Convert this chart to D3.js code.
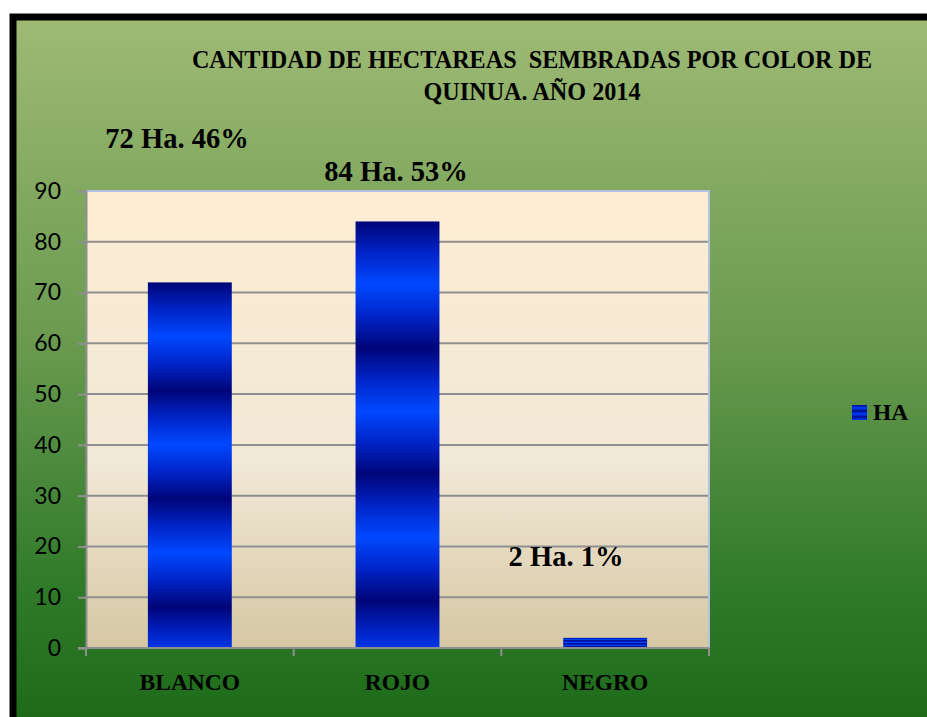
<!DOCTYPE html>
<html>
<head>
<meta charset="utf-8">
<script src="https://cdn.jsdelivr.net/npm/d3@7"></script>
<style>
    body { margin: 0; background: #fff; }
    svg { display: block; }
</style>
</head>
<body>
<div id="chart"></div>
<script>
// chart data
let categories = ['BLANCO', 'ROJO', 'NEGRO'];
let hectares = [72, 84, 2];
let barLabels = ['72 Ha. 46%', '84 Ha. 53%', '2 Ha. 1%'];
let yTicks = [0, 10, 20, 30, 40, 50, 60, 70, 80, 90];
let seriesName = 'HA';
let titleLines = ['CANTIDAD DE HECTAREAS  SEMBRADAS POR COLOR DE', 'QUINUA. AÑO 2014'];

let W = 927, H = 717;
let plot = {left: 86, right: 709, top: 191, bottom: 648};

let svg = d3.select('#chart').append('svg')
    .attr('width', W)
    .attr('height', H);

let defs = svg.append('defs');

let bg = defs.append('linearGradient')
    .attr('id', 'bg-grad')
    .attr('x1', 0).attr('y1', 0).attr('x2', 0).attr('y2', 1);
bg.append('stop').attr('offset', 0).attr('stop-color', '#9fba74');
bg.append('stop').attr('offset', 0.45).attr('stop-color', '#6a9a50');
bg.append('stop').attr('offset', 0.8).attr('stop-color', '#2f7a29');
bg.append('stop').attr('offset', 1).attr('stop-color', '#1b6918');

let plotGrad = defs.append('linearGradient')
    .attr('id', 'plot-grad')
    .attr('x1', 0).attr('y1', 0).attr('x2', 0).attr('y2', 1);
plotGrad.append('stop').attr('offset', 0).attr('stop-color', '#fdedd3');
plotGrad.append('stop').attr('offset', 0.6).attr('stop-color', '#f1e8d6');
plotGrad.append('stop').attr('offset', 1).attr('stop-color', '#d6c8a4');

// striped blue gradient, repeats inside every bar
let barGrad = defs.append('linearGradient')
    .attr('id', 'bar-grad')
    .attr('x1', 0).attr('y1', 0).attr('x2', 0).attr('y2', 0.148)
    .attr('spreadMethod', 'reflect');
barGrad.append('stop').attr('offset', 0).attr('stop-color', '#000578');
barGrad.append('stop').attr('offset', 0.5).attr('stop-color', '#0024c8');
barGrad.append('stop').attr('offset', 1).attr('stop-color', '#0048ff');

let legGrad = defs.append('linearGradient')
    .attr('id', 'leg-grad')
    .attr('x1', 0).attr('y1', 0).attr('x2', 0).attr('y2', 0.2)
    .attr('spreadMethod', 'reflect');
legGrad.append('stop').attr('offset', 0).attr('stop-color', '#000a8c');
legGrad.append('stop').attr('offset', 1).attr('stop-color', '#0040ff');

// background and frame
svg.append('rect')
    .attr('x', 13).attr('y', 17)
    .attr('width', W).attr('height', H)
    .attr('fill', 'url(#bg-grad)')
    .attr('stroke', '#000')
    .attr('stroke-width', 7);

svg.append('rect')
    .attr('x', plot.left).attr('y', plot.top)
    .attr('width', plot.right - plot.left)
    .attr('height', plot.bottom - plot.top)
    .attr('fill', 'url(#plot-grad)');

let x = d3.scaleBand()
    .domain(categories)
    .range([plot.left, plot.right])
    .paddingInner(0.596)
    .paddingOuter(0.298);

let y = d3.scaleLinear()
    .domain([0, 90])
    .range([plot.bottom, plot.top]);

// gridlines
svg.append('g')
    .selectAll('line')
    .data(yTicks.filter(d => d > 0 && d < 90))
    .enter()
    .append('line')
    .attr('x1', plot.left).attr('x2', plot.right)
    .attr('y1', d => y(d)).attr('y2', d => y(d))
    .attr('stroke', '#8f8f8f')
    .attr('stroke-width', 2);

// plot border (top / right)
svg.append('path')
    .attr('d', `M${plot.left},${plot.top}H${plot.right}V${plot.bottom}`)
    .attr('fill', 'none')
    .attr('stroke', '#b3c2e0')
    .attr('stroke-width', 2);

// bars
svg.append('g')
    .selectAll('rect')
    .data(hectares)
    .enter()
    .append('rect')
    .attr('x', (d, i) => x(categories[i]))
    .attr('y', d => y(d))
    .attr('width', x.bandwidth())
    .attr('height', d => y(0) - y(d))
    .attr('fill', 'url(#bar-grad)');

// y axis
let yAxis = svg.append('g')
    .attr('transform', `translate(${plot.left},0)`)
    .call(d3.axisLeft(y).tickValues(yTicks).tickSize(8).tickPadding(17));
yAxis.select('.domain').attr('stroke', '#8f8f8f').attr('stroke-width', 2);
yAxis.selectAll('.tick line').attr('stroke', '#8f8f8f').attr('stroke-width', 2);
yAxis.selectAll('.tick text')
    .attr('font-family', 'Lato, "Open Sans", sans-serif')
    .attr('font-size', 23)
    .attr('fill', '#000');

// x axis with ticks between categories
let xAxis = svg.append('g')
    .attr('transform', `translate(0,${plot.bottom})`);
xAxis.append('line')
    .attr('x1', plot.left - 8).attr('x2', plot.right)
    .attr('stroke', '#8f8f8f').attr('stroke-width', 2);
xAxis.selectAll('line.tk')
    .data(d3.range(categories.length + 1))
    .enter()
    .append('line')
    .attr('class', 'tk')
    .attr('x1', i => plot.left + i * x.step())
    .attr('x2', i => plot.left + i * x.step())
    .attr('y1', 0).attr('y2', 8)
    .attr('stroke', '#8f8f8f').attr('stroke-width', 2);
xAxis.selectAll('text')
    .data(categories)
    .enter()
    .append('text')
    .attr('x', d => x(d) + x.bandwidth() / 2)
    .attr('y', 42)
    .attr('text-anchor', 'middle')
    .attr('font-family', '"Liberation Serif", serif')
    .attr('font-weight', 'bold')
    .attr('font-size', 23.5)
    .text(d => d);

// title
svg.append('g')
    .selectAll('text')
    .data(titleLines)
    .enter()
    .append('text')
    .attr('x', 532)
    .attr('y', (d, i) => 68 + i * 32)
    .attr('text-anchor', 'middle')
    .attr('font-family', '"Liberation Serif", serif')
    .attr('font-weight', 'bold')
    .attr('font-size', 24.2)
    .style('white-space', 'pre')
    .text(d => d);

// data labels
let labelPos = [{x: 177, y: 148}, {x: 396, y: 181}, {x: 566, y: 566}];
svg.append('g')
    .selectAll('text')
    .data(barLabels)
    .enter()
    .append('text')
    .attr('x', (d, i) => labelPos[i].x)
    .attr('y', (d, i) => labelPos[i].y)
    .attr('text-anchor', 'middle')
    .attr('font-family', '"Liberation Serif", serif')
    .attr('font-weight', 'bold')
    .attr('font-size', 28.5)
    .text(d => d);

// legend
let legend = svg.append('g').attr('transform', 'translate(852,405)');
legend.append('rect')
    .attr('width', 15).attr('height', 15)
    .attr('fill', 'url(#leg-grad)');
legend.append('text')
    .attr('x', 21).attr('y', 15)
    .attr('font-family', '"Liberation Serif", serif')
    .attr('font-weight', 'bold')
    .attr('font-size', 23.5)
    .text(seriesName);
</script>
</body>
</html>
